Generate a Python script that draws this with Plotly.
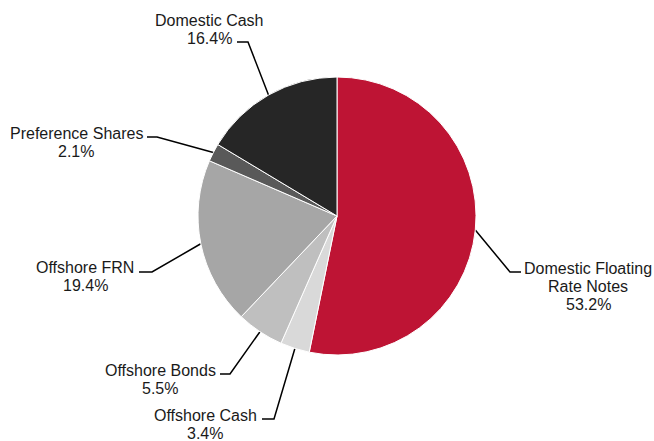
import math
import plotly.graph_objects as go

# ---- data ----
categories = ["Domestic Floating Rate Notes", "Offshore Cash", "Offshore Bonds",
              "Offshore FRN", "Preference Shares", "Domestic Cash"]
label_lines = [["Domestic Floating", "Rate Notes"], ["Offshore Cash"], ["Offshore Bonds"],
               ["Offshore FRN"], ["Preference Shares"], ["Domestic Cash"]]
values = [53.2, 3.4, 5.5, 19.4, 2.1, 16.4]
colors = ["#BE1434", "#D9D9D9", "#BFBFBF", "#A6A6A6", "#595959", "#262626"]

# ---- layout (window pixel space) ----
W, H = 654, 441
cx, cy, r = 337, 216, 139
# elbow point of each leader line, end of horizontal segment, label centre x, first line y
elbows = [(510, 272), (274, 419), (230, 374), (152, 272), (157, 137), (248, 42)]
hends = [521, 262, 220, 139, 147, 237]
label_x = [588, 205, 160, 85, 76, 209]
label_y = [268, 415, 370, 267, 133, 20]
line_gap = 18

fig = go.Figure()
fig.add_trace(go.Pie(
    labels=categories, values=values, sort=False, direction="clockwise", rotation=0,
    marker=dict(colors=colors, line=dict(color="white", width=1)),
    textinfo="none", hoverinfo="label+percent", showlegend=False,
    domain=dict(x=[(cx - r) / W, (cx + r) / W],
                y=[1 - (cy + r) / H, 1 - (cy - r) / H]),
))

total = sum(values)
cum = 0
annotations = []
for i, v in enumerate(values):
    mid = (cum + v / 2) / total
    cum += v
    ang = 2 * math.pi * mid
    sx = cx + r * math.sin(ang)
    sy = cy - r * math.cos(ang)
    ex, ey = elbows[i]
    fig.add_trace(go.Scatter(
        x=[sx, ex, hends[i]], y=[sy, ey, ey], mode="lines",
        line=dict(color="black", width=1.5), hoverinfo="skip", showlegend=False,
        xaxis="x", yaxis="y",
    ))
    lines = label_lines[i] + [f"{v:.1f}%"]
    for j, t in enumerate(lines):
        annotations.append(dict(
            x=label_x[i], y=label_y[i] + j * line_gap, xref="x", yref="y",
            text=t, showarrow=False, xanchor="center", yanchor="middle",
            font=dict(family="Liberation Sans, Arial, sans-serif", size=16, color="#1a1a1a"),
        ))

fig.update_layout(
    width=W, height=H, margin=dict(l=0, r=0, t=0, b=0),
    paper_bgcolor="white", plot_bgcolor="rgba(0,0,0,0)",
    xaxis=dict(range=[0, W], visible=False, fixedrange=True, domain=[0, 1]),
    yaxis=dict(range=[H, 0], visible=False, fixedrange=True, domain=[0, 1]),
    annotations=annotations, showlegend=False,
)

fig.write_html(
    "out.html",
    config={"displayModeBar": False},
    post_script="document.body.style.margin='0';document.documentElement.style.overflow='hidden';document.body.style.overflow='hidden';",
)
